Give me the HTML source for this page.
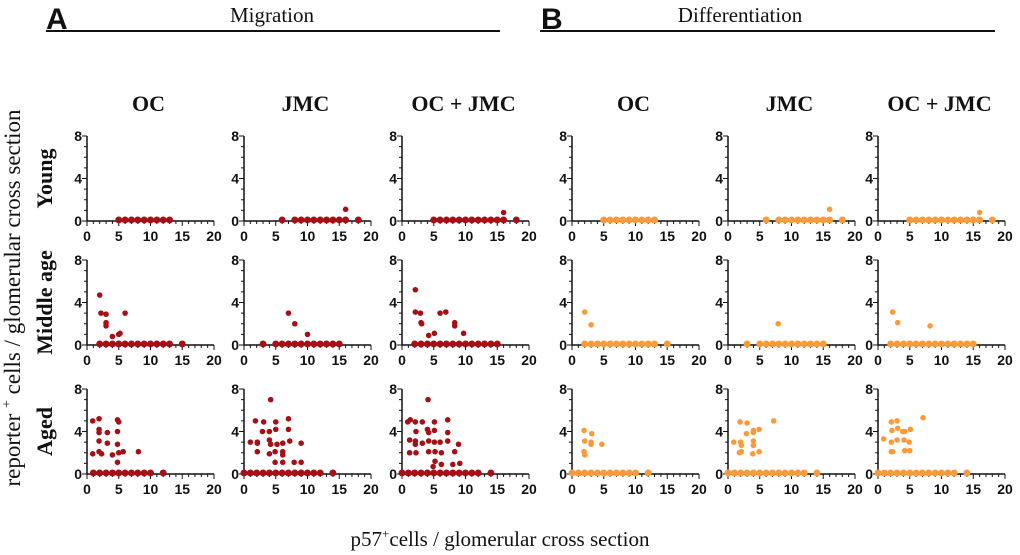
<!DOCTYPE html>
<html><head><meta charset="utf-8">
<style>
html,body{margin:0;padding:0;background:#fff;}
svg{display:block;}
.tk{font-family:"Liberation Sans",Arial,sans-serif;font-weight:bold;font-size:14px;fill:#111;}
.ser{font-family:"Liberation Serif","Times New Roman",serif;fill:#111;}
</style></head>
<body>
<svg id="fig" width="1020" height="555" viewBox="0 0 1020 555" xmlns="http://www.w3.org/2000/svg">
<g>
<text x="46" y="29" font-family="Liberation Sans, sans-serif" font-weight="bold" font-size="30" fill="#111">A</text>
<text class="ser" x="272" y="22" font-size="21" text-anchor="middle">Migration</text>
<line x1="46" y1="31" x2="500" y2="31" stroke="#111" stroke-width="2"/>
</g>
<g>
<text x="541" y="29" font-family="Liberation Sans, sans-serif" font-weight="bold" font-size="30" fill="#111">B</text>
<text class="ser" x="740" y="22" font-size="21" text-anchor="middle">Differentiation</text>
<line x1="540" y1="31" x2="995" y2="31" stroke="#111" stroke-width="2"/>
</g>
<text class="ser" font-size="23" transform="translate(20,298) rotate(-90)" text-anchor="middle">reporter <tspan font-size="14" dy="-9">+</tspan><tspan dy="9"> cells / glomerular cross section</tspan></text>
<text class="ser" font-size="21" x="500" y="546" text-anchor="middle">p57<tspan font-size="13" dy="-8">+</tspan><tspan dy="8">cells / glomerular cross section</tspan></text>
<g id="plots"></g>
</svg>
<script>
// column / row labels
const colTitles = ["OC","JMC","OC + JMC","OC","JMC","OC + JMC"];
const rowTitles = ["Young","Middle age","Aged"];
const xTicks = [0,5,10,15,20];
const yTicks = [0,4,8];

// Data: base = x values of dots at y=0; raised = x / y of dots above 0
// A – Migration
const aYoungOcBase = [5,6,7,8,9,10,11,12,13];
const aYoungOcRx = []; const aYoungOcRy = [];
const aYoungJmcBase = [6,8,9,10,11,12,13,14,15,16,18];
const aYoungJmcRx = [16]; const aYoungJmcRy = [1.1];
const aYoungBothBase = [5,6,7,8,9,10,11,12,13,14,15,16,18];
const aYoungBothRx = [16]; const aYoungBothRy = [0.8];

const aMidOcBase = [2,3,4,5,6,7,8,9,10,11,12,13,15];
const aMidOcRx = [2,2.2,3,3,3,4,5,5.2,6];
const aMidOcRy = [4.7,3.0,2.9,2.1,1.8,0.8,1.0,1.1,3.0];
const aMidJmcBase = [3,5,6,7,8,9,10,11,12,13,14,15];
const aMidJmcRx = [7,8,10]; const aMidJmcRy = [3.0,2.0,1.0];
const aMidBothBase = [2,3,4,5,6,7,8,9,10,11,12,13,14,15];
const aMidBothRx = [2.1,2.1,2.9,3.0,3.1,4.2,5.1,6,6.9,8.3,8.3,9.7];
const aMidBothRy = [5.2,3.1,3.0,2.1,2.0,0.9,1.1,3.0,3.1,2.1,1.8,1.1];

const aAgedOcBase = [1,2,3,4,5,6,7,8,9,10,12];
const aAgedOcRx = [0.9,1.9,0.9,1.9,1.9,1.9,1.9,2.3,3.2,3.2,4.0,4.8,5.0,4.8,4.8,5.0,4.8,5.7,8.1];
const aAgedOcRy = [5.0,5.2,1.9,4.2,3.9,3.1,2.1,1.9,3.9,2.9,1.8,5.1,4.9,4.0,2.8,2.0,1.1,2.1,2.1];
const aAgedJmcBase = [0,1,2,3,4,5,6,7,8,9,10,11,12,14];
const aAgedJmcRx = [1.0,1.8,2.1,2.1,2.1,3.1,2.9,4.2,4.0,4.0,4.2,4.0,5.0,5.0,5.2,4.9,4.9,6.1,6.1,6.1,6.1,7.0,7.0,7.2,7.9,9.0,9.0];
const aAgedJmcRy = [3.0,5.0,3.0,2.9,2.1,4.9,4.0,7.0,4.0,3.2,2.8,1.9,4.9,4.2,2.8,2.1,1.1,2.9,2.1,1.8,1.1,5.2,4.2,3.1,1.1,2.9,1.1];
const aAgedBothBase = [0,1,2,3,4,5,6,7,8,9,10,11,12,14];
const aAgedBothRx = [0.9,1.3,2.1,1.2,1.2,2.2,2.1,2.1,2.2,3.2,3.2,4.0,4.1,4.2,4.2,4.2,5.1,5.1,5.1,5.2,5.2,4.9,6.0,6.2,6.2,7.2,7.2,7.2,8.0,8.3,8.9,9.1];
const aAgedBothRy = [4.9,5.1,4.9,3.2,2.0,2.0,3.1,2.8,4.0,4.9,2.9,4.2,7.0,3.9,3.1,2.1,4.9,4.1,3.0,2.1,1.2,0.7,3.0,2.0,0.9,5.1,3.9,3.1,0.9,2.1,2.8,1.0];

// B – Differentiation
const bYoungOcBase = [5,6,7,8,9,10,11,12,13];
const bYoungOcRx = []; const bYoungOcRy = [];
const bYoungJmcBase = [6,8,9,10,11,12,13,14,15,16,18];
const bYoungJmcRx = [16]; const bYoungJmcRy = [1.1];
const bYoungBothBase = [5,6,7,8,9,10,11,12,13,14,15,16,18];
const bYoungBothRx = [16]; const bYoungBothRy = [0.8];

const bMidOcBase = [2,3,4,5,6,7,8,9,10,11,12,13,15];
const bMidOcRx = [2.0,3.0]; const bMidOcRy = [3.1,1.9];
const bMidJmcBase = [3,5,6,7,8,9,10,11,12,13,14,15];
const bMidJmcRx = [7.9]; const bMidJmcRy = [2.0];
const bMidBothBase = [2,3,4,5,6,7,8,9,10,11,12,13,14,15];
const bMidBothRx = [2.3,3.1,8.2]; const bMidBothRy = [3.1,2.1,1.8];

const bAgedOcBase = [0,1,2,3,4,5,6,7,8,9,10,12];
const bAgedOcRx = [1.9,2.0,1.9,2.0,3.1,3.0,3.0,4.7];
const bAgedOcRy = [4.1,3.1,2.1,1.8,3.8,3.0,2.8,2.8];
const bAgedJmcBase = [0,1,2,3,4,5,6,7,8,9,10,11,12,14];
const bAgedJmcRx = [0.9,1.9,2.0,2.1,1.8,2.1,3.0,2.9,4.0,4.0,4.0,4.0,3.9,4.9,4.9,7.2];
const bAgedJmcRy = [3.0,4.9,3.0,2.7,2.0,2.1,4.8,3.8,4.1,3.9,3.1,2.7,1.9,4.2,2.1,5.0];
const bAgedBothBase = [0,1,2,3,4,5,6,7,8,9,10,11,12,14];
const bAgedBothRx = [0.9,2.1,2.2,2.1,2.1,2.3,3.0,3.1,3.0,3.9,4.2,4.1,4.2,5.1,4.9,5.0,7.1];
const bAgedBothRy = [3.3,4.9,4.1,3.0,2.1,2.1,5.0,4.3,3.2,4.0,4.0,3.2,2.2,4.2,3.0,2.2,5.3];

const panels = [
 [aYoungOcBase,aYoungOcRx,aYoungOcRy],[aYoungJmcBase,aYoungJmcRx,aYoungJmcRy],[aYoungBothBase,aYoungBothRx,aYoungBothRy],
 [bYoungOcBase,bYoungOcRx,bYoungOcRy],[bYoungJmcBase,bYoungJmcRx,bYoungJmcRy],[bYoungBothBase,bYoungBothRx,bYoungBothRy],
 [aMidOcBase,aMidOcRx,aMidOcRy],[aMidJmcBase,aMidJmcRx,aMidJmcRy],[aMidBothBase,aMidBothRx,aMidBothRy],
 [bMidOcBase,bMidOcRx,bMidOcRy],[bMidJmcBase,bMidJmcRx,bMidJmcRy],[bMidBothBase,bMidBothRx,bMidBothRy],
 [aAgedOcBase,aAgedOcRx,aAgedOcRy],[aAgedJmcBase,aAgedJmcRx,aAgedJmcRy],[aAgedBothBase,aAgedBothRx,aAgedBothRy],
 [bAgedOcBase,bAgedOcRx,bAgedOcRy],[bAgedJmcBase,bAgedJmcRx,bAgedJmcRy],[bAgedBothBase,bAgedBothRx,bAgedBothRy]
];

const NS = "http://www.w3.org/2000/svg";
const colX = [87,244,402,572,728,878];
const rowY = [221,345,474];
const W = 127, H = 85, XMAX = 20, YMAX = 8;
const root = document.getElementById('plots');
function mk(tag, attrs, parent){
  const e = document.createElementNS(NS, tag);
  for (const k in attrs) e.setAttribute(k, attrs[k]);
  parent.appendChild(e);
  return e;
}
colTitles.forEach((t,c)=>{
  const e = mk('text',{x:colX[c]+W/2-2,y:111,'text-anchor':'middle','font-size':22,'font-weight':'bold','class':'ser'},root);
  
  
  e.textContent = t;
});
rowTitles.forEach((t,r)=>{
  const cy = rowY[r]-H/2;
  const e = mk('text',{transform:`translate(52,${cy}) rotate(-90)`,'text-anchor':'middle','font-size':22,'font-weight':'bold','class':'ser'},root);
  
  
  e.textContent = t;
});
panels.forEach((p,i)=>{
  const r = Math.floor(i/6), c = i%6;
  const x0 = colX[c], y0 = rowY[r];
  const sx = v => x0 + v/XMAX*W;
  const sy = v => y0 - v/YMAX*H;
  const color = c<3 ? '#a50f15' : '#fb9a3a';
  const g = mk('g',{},root);
  
  
  const ya = mk('line',{x1:x0,y1:sy(YMAX),x2:x0,y2:y0,stroke:'#111','stroke-width':1.5},g);
  
  
  const xa = mk('line',{x1:x0,y1:y0,x2:sx(XMAX),y2:y0,stroke:'#111','stroke-width':1.5},g);
  
  
  for(let v=0; v<=YMAX; v++){
    const maj = yTicks.includes(v);
    mk('line',{x1:x0-(maj?5:3),y1:sy(v),x2:x0,y2:sy(v),stroke:'#111','stroke-width':1},g);
  }
  for(let v=0; v<=XMAX; v++){
    const maj = xTicks.includes(v);
    mk('line',{x1:sx(v),y1:y0,x2:sx(v),y2:y0+(maj?5:3),stroke:'#111','stroke-width':1},g);
  }
  yTicks.forEach(v=>{
    const t = mk('text',{x:x0-5,y:sy(v)+5,'text-anchor':'end','class':'tk'},g);
    
    
    t.textContent = v;
  });
  xTicks.forEach(v=>{
    const t = mk('text',{x:sx(v),y:y0+20,'text-anchor':'middle','class':'tk'},g);
    
    
    t.textContent = v;
  });
  p[0].forEach(v=>{
    const d = mk('circle',{cx:sx(v),cy:sy(0.1),r:3.5,fill:color},g);
    
    
  });
  p[1].forEach((v,k)=>{
    const d = mk('circle',{cx:sx(v),cy:sy(p[2][k]),r:2.8,fill:color},g);
    
    
  });
});
</script>
</body></html>
